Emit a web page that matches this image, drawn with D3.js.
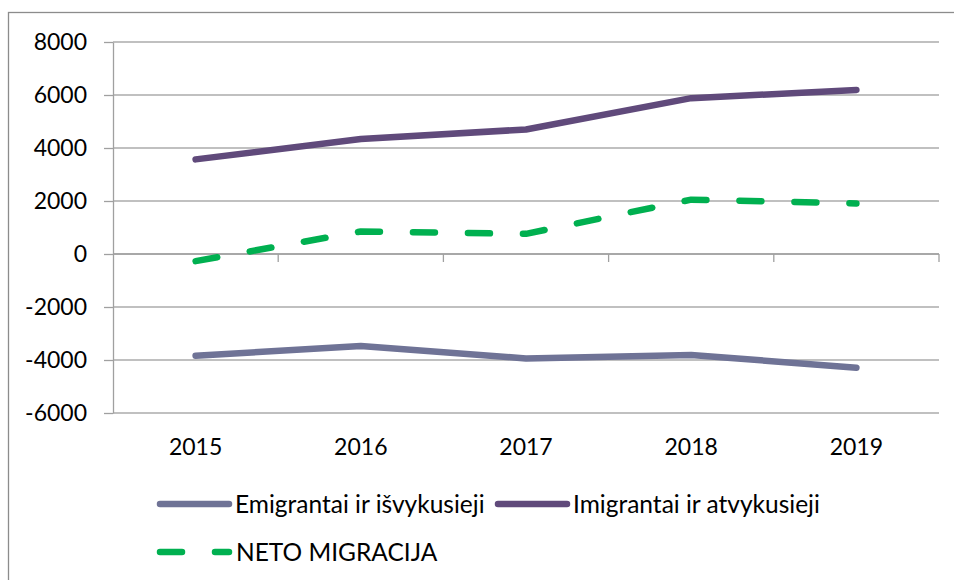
<!DOCTYPE html>
<html>
<head>
<meta charset="utf-8">
<script src="https://cdn.jsdelivr.net/npm/d3@7"></script>
<style>
  body { margin: 0; background: #fff; }
  svg text { font-family: Lato, "Open Sans", sans-serif; fill: #000; }
</style>
</head>
<body>
<div id="chart"></div>
<script>
// data
const years = ['2015', '2016', '2017', '2018', '2019'];
const emigrantai = [-3840, -3470, -3940, -3810, -4290];
const imigrantai = [3570, 4340, 4700, 5880, 6190];
const neto = [-270, 850, 760, 2050, 1910];
const yTicks = [-6000, -4000, -2000, 0, 2000, 4000, 6000, 8000];

const seriesNames = ['Emigrantai ir išvykusieji', 'Imigrantai ir atvykusieji', 'NETO MIGRACIJA'];
const seriesColors = ['#6f7396', '#604a7b', '#00b050'];

const width = 954, height = 580;
const plotLeft = 113, plotRight = 939, plotTop = 42, plotBottom = 413;
const lineW = 6.5;
const dash = '22,33';

const svg = d3.select('#chart').append('svg')
  .attr('width', width)
  .attr('height', height);

// chart frame (only left and top visible)
svg.append('rect')
  .attr('x', 8.5).attr('y', 12.5)
  .attr('width', 960).attr('height', 600)
  .attr('fill', 'none')
  .attr('stroke', '#8c8c8c')
  .attr('stroke-width', 1.3);

const x = d3.scaleBand().domain(years).range([plotLeft, plotRight]);
const y = d3.scaleLinear().domain([-6000, 8000]).range([plotBottom, plotTop]);

// gridlines
svg.append('g')
  .selectAll('line')
  .data(yTicks)
  .enter().append('line')
  .attr('x1', plotLeft).attr('x2', plotRight)
  .attr('y1', d => y(d)).attr('y2', d => y(d))
  .attr('stroke', '#ababab')
  .attr('stroke-width', 1.5);

// y axis (plain hyphen for negatives, like the original)
const yAxis = svg.append('g')
  .attr('transform', `translate(${plotLeft},0)`)
  .call(d3.axisLeft(y).tickValues(yTicks).tickSize(9).tickSizeOuter(0).tickPadding(17).tickFormat(d => String(d)));
yAxis.select('.domain').attr('stroke', '#a0a0a0').attr('stroke-width', 1.3);
yAxis.selectAll('.tick line').attr('stroke', '#a0a0a0').attr('stroke-width', 1.3);
yAxis.selectAll('.tick text').style('font-size', '23px').attr('fill', '#000');

// category axis along the zero line, ticks at category boundaries
const zero = y(0);
svg.append('line')
  .attr('x1', plotLeft).attr('x2', plotRight)
  .attr('y1', zero).attr('y2', zero)
  .attr('stroke', '#a0a0a0').attr('stroke-width', 1.5);
svg.append('g')
  .selectAll('line')
  .data(years.slice(1).concat(['end']))
  .enter().append('line')
  .attr('x1', d => d === 'end' ? plotRight : x(d))
  .attr('x2', d => d === 'end' ? plotRight : x(d))
  .attr('y1', zero).attr('y2', zero + 8)
  .attr('stroke', '#a0a0a0').attr('stroke-width', 1.3);

// category labels at the bottom
svg.append('g')
  .selectAll('text')
  .data(years)
  .enter().append('text')
  .attr('x', d => x(d) + x.bandwidth() / 2)
  .attr('y', 455)
  .attr('text-anchor', 'middle')
  .style('font-size', '23px')
  .text(d => d);

// lines
const line = d3.line()
  .x((d, i) => x(years[i]) + x.bandwidth() / 2)
  .y(d => y(d));

[emigrantai, imigrantai, neto].forEach((vals, i) => {
  svg.append('path')
    .datum(vals)
    .attr('d', line)
    .attr('fill', 'none')
    .attr('stroke', seriesColors[i])
    .attr('stroke-width', lineW)
    .attr('stroke-linecap', 'round')
    .attr('stroke-linejoin', 'round')
    .attr('stroke-dasharray', i === 2 ? dash : null);
});

// legend
const legendItems = [
  { x: 160, y: 504, tx: 235 },
  { x: 498, y: 504, tx: 573 },
  { x: 160, y: 552, tx: 236 }
];
const legend = svg.append('g');
legendItems.forEach((p, i) => {
  legend.append('line')
    .attr('x1', p.x).attr('x2', p.x + 69)
    .attr('y1', p.y).attr('y2', p.y)
    .attr('stroke', seriesColors[i])
    .attr('stroke-width', lineW)
    .attr('stroke-linecap', 'round')
    .attr('stroke-dasharray', i === 2 ? dash : null);
  legend.append('text')
    .attr('x', p.tx)
    .attr('y', p.y)
    .attr('dy', '0.35em')
    .style('font-size', '24.5px')
    .text(seriesNames[i]);
});
</script>
</body>
</html>
